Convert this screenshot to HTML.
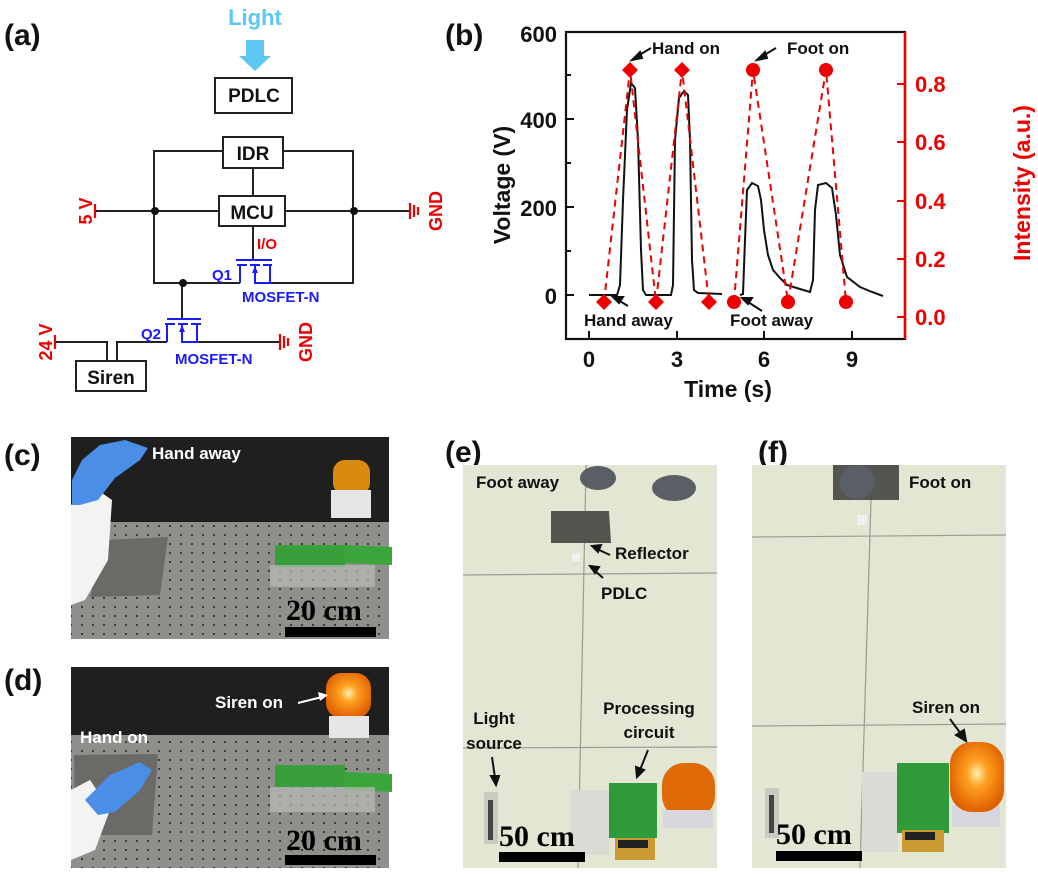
<!DOCTYPE html>
<html><head><meta charset="utf-8"><style>
html,body{margin:0;padding:0;background:#fff;}
svg{display:block;font-family:"Liberation Sans",Arial,sans-serif;}
</style></head><body>
<svg width="1038" height="875" viewBox="0 0 1038 875" xmlns="http://www.w3.org/2000/svg">
<g font-weight="bold" font-size="30" fill="#111">
<text x="4" y="45">(a)</text>
<text x="445" y="45">(b)</text>
<text x="4" y="465">(c)</text>
<text x="4" y="690">(d)</text>
<text x="445" y="462">(e)</text>
<text x="758" y="462">(f)</text>
</g>

<!-- ===== Panel (a) circuit ===== -->
<text x="255" y="25" font-size="22" font-weight="bold" fill="#5cc8f2" text-anchor="middle">Light</text>
<polygon points="246,40 264,40 264,56 271,56 255,71 239,56 246,56" fill="#5cc8f2"/>
<g fill="none" stroke="#222" stroke-width="2">
<rect x="215" y="78" width="77" height="35" fill="#fff"/>
<polyline points="223,151 154,151 154,283 240,283"/>
<polyline points="283,151 353,151 353,283 270,283"/>
<rect x="223" y="137" width="60" height="31" fill="#fff"/>
<line x1="253" y1="168" x2="253" y2="196"/>
<line x1="95" y1="211" x2="219" y2="211"/>
<line x1="285" y1="211" x2="410" y2="211"/>
<rect x="219" y="196" width="66" height="30" fill="#fff"/>
<line x1="253" y1="226" x2="253" y2="260"/>
<line x1="182" y1="283" x2="182" y2="319"/>
<polyline points="55,342 107,342 107,361"/>
<polyline points="117,361 117,342 167,342"/>
<line x1="197" y1="342" x2="280" y2="342"/>
<rect x="76" y="361" width="70" height="30" fill="#fff"/>
</g>
<g fill="#111"><circle cx="155" cy="211" r="4"/><circle cx="354" cy="211" r="4"/><circle cx="183" cy="283" r="4"/></g>
<g font-weight="bold" font-size="19" fill="#111" text-anchor="middle">
<text x="254" y="102">PDLC</text>
<text x="253" y="160">IDR</text>
<text x="252" y="219">MCU</text>
<text x="111" y="384">Siren</text>
</g>
<g stroke="#1a1aff" stroke-width="2" fill="none">
<line x1="236" y1="260" x2="272" y2="260"/>
<line x1="237" y1="265" x2="247" y2="265"/><line x1="250" y1="265" x2="260" y2="265"/><line x1="263" y1="265" x2="272" y2="265"/>
<polyline points="240,265 240,283"/>
<polyline points="255,265 255,283 270,283 270,265"/>
<line x1="167" y1="319" x2="201" y2="319"/>
<line x1="165" y1="324" x2="175" y2="324"/><line x1="178" y1="324" x2="188" y2="324"/><line x1="191" y1="324" x2="201" y2="324"/>
<polyline points="167,324 167,342"/>
<polyline points="182,324 182,342 197,342 197,324"/>
</g>
<g fill="#1a1aff"><polygon points="255,266 252,273 258,273"/><polygon points="182,325 179,332 185,332"/></g>
<g font-weight="bold" font-size="15" fill="#1a1aff">
<text x="212" y="280">Q1</text>
<text x="242" y="302">MOSFET-N</text>
<text x="141" y="339">Q2</text>
<text x="175" y="364">MOSFET-N</text>
</g>
<g stroke="#e00" stroke-width="2.2">
<line x1="95" y1="204" x2="95" y2="218"/>
<line x1="410" y1="203" x2="410" y2="219"/><line x1="414" y1="205" x2="414" y2="217"/><line x1="418" y1="207" x2="418" y2="215"/>
<line x1="55" y1="335" x2="55" y2="349"/>
<line x1="280" y1="334" x2="280" y2="350"/><line x1="284" y1="336" x2="284" y2="348"/><line x1="288" y1="338" x2="288" y2="346"/>
</g>
<g font-weight="bold" font-size="18" fill="#e00">
<text transform="translate(92,211) rotate(-90)" text-anchor="middle">5 V</text>
<text transform="translate(442,211) rotate(-90)" text-anchor="middle">GND</text>
<text transform="translate(52,342) rotate(-90)" text-anchor="middle">24 V</text>
<text transform="translate(312,342) rotate(-90)" text-anchor="middle">GND</text>
<text x="257" y="249" font-size="15">I/O</text>
</g>

<!-- ===== Panel (b) plot ===== -->
<rect x="566" y="32" width="339" height="307" fill="none" stroke="#111" stroke-width="2.2"/>
<line x1="905" y1="32" x2="905" y2="339" stroke="#e00" stroke-width="2.5"/>
<g stroke="#111" stroke-width="2">
<line x1="566" y1="295" x2="574" y2="295"/><line x1="566" y1="207" x2="574" y2="207"/><line x1="566" y1="119" x2="574" y2="119"/>
<line x1="566" y1="251" x2="571" y2="251"/><line x1="566" y1="163" x2="571" y2="163"/><line x1="566" y1="75" x2="571" y2="75"/>
<line x1="589" y1="339" x2="589" y2="331"/><line x1="677" y1="339" x2="677" y2="331"/><line x1="764" y1="339" x2="764" y2="331"/><line x1="852" y1="339" x2="852" y2="331"/>
</g>
<g stroke="#e00" stroke-width="2">
<line x1="905" y1="84" x2="897" y2="84"/><line x1="905" y1="142" x2="897" y2="142"/><line x1="905" y1="201" x2="897" y2="201"/><line x1="905" y1="259" x2="897" y2="259"/><line x1="905" y1="317" x2="897" y2="317"/>
</g>
<g font-weight="bold" font-size="22" fill="#111" text-anchor="end">
<text x="557" y="42">600</text><text x="557" y="128">400</text><text x="557" y="216">200</text><text x="557" y="304">0</text>
</g>
<g font-weight="bold" font-size="22" fill="#111" text-anchor="middle">
<text x="589" y="367">0</text><text x="677" y="367">3</text><text x="764" y="367">6</text><text x="852" y="367">9</text>
<text x="728" y="397" font-size="23">Time (s)</text>
<text transform="translate(510,185) rotate(-90)" font-size="23">Voltage (V)</text>
</g>
<g font-weight="bold" font-size="22" fill="#e00">
<text x="915" y="92">0.8</text><text x="915" y="150">0.6</text><text x="915" y="209">0.4</text><text x="915" y="267">0.2</text><text x="915" y="325">0.0</text>
<text transform="translate(1030,183) rotate(-90)" text-anchor="middle" font-size="23">Intensity (a.u.)</text>
</g>
<path d="M589,295 L617,295 L620,285 L623,200 L627,110 L631,83 L635,88 L638,140 L641,250 L643,290 L646,295 L671,295 L673,285 L675,140 L679,98 L684,91 L688,95 L690,140 L692,260 L694,290 L698,293 L722,294 M740,295 L743,294 L745,240 L747,190 L752,183 L758,186 L761,200 L764,230 L768,255 L773,270 L780,278 L787,285 L800,289 L810,292 L813,280 L815,210 L818,185 L826,183 L832,188 L836,215 L840,255 L847,277 L860,287 L872,292 L883,296" fill="none" stroke="#111" stroke-width="2"/>
<g fill="none" stroke="#e00" stroke-width="2" stroke-dasharray="7,5">
<polyline points="604,302 630,70 656,302 682,70 709,302"/>
<polyline points="734,302 753,70 788,302 826,70 846,302"/>
</g>
<g fill="#e00">
<polygon points="604,294 612,302 604,310 596,302"/><polygon points="630,62 638,70 630,78 622,70"/><polygon points="656,294 664,302 656,310 648,302"/><polygon points="682,62 690,70 682,78 674,70"/><polygon points="709,294 717,302 709,310 701,302"/>
<circle cx="734" cy="302" r="7"/><circle cx="753" cy="70" r="7"/><circle cx="788" cy="302" r="7"/><circle cx="826" cy="70" r="7"/><circle cx="846" cy="302" r="7"/>
</g>
<g font-weight="bold" font-size="17" fill="#111">
<text x="652" y="54">Hand on</text>
<text x="787" y="54">Foot on</text>
<text x="584" y="326">Hand away</text>
<text x="730" y="326">Foot away</text>
</g>
<g stroke="#111" stroke-width="2" fill="#111">
<line x1="651" y1="48" x2="636" y2="57"/><polygon points="632,60 640,52 642,58"/>
<line x1="776" y1="48" x2="761" y2="57"/><polygon points="757,60 765,52 767,58"/>
<line x1="628" y1="306" x2="618" y2="300"/><polygon points="613,297 623,297 619,303"/>
<line x1="762" y1="311" x2="748" y2="302"/><polygon points="742,298 752,298 748,304"/>
</g>

<defs>
<pattern id="holes" width="11" height="9" patternUnits="userSpaceOnUse"><rect width="11" height="9" fill="#8f8f8c"/><circle cx="5" cy="4" r="1.1" fill="#333"/></pattern>
<radialGradient id="glow" cx="50%" cy="45%" r="55%"><stop offset="0" stop-color="#fff2b0"/><stop offset="0.35" stop-color="#ffa020"/><stop offset="1" stop-color="#e06000"/></radialGradient>
</defs>

<!-- ===== Panel (c) ===== -->
<g>
<rect x="71" y="437" width="318" height="202" fill="url(#holes)"/>
<rect x="71" y="437" width="318" height="85" fill="#1f1f1f"/>
<polygon points="106,540 168,537 160,595 90,597" fill="#6b6a66"/>
<path d="M71,505 L95,488 L112,500 L108,560 L85,600 L71,605 Z" fill="#f3f3f3"/>
<path d="M72,480 L82,460 L100,445 L125,440 L148,448 L140,460 L115,478 L98,500 L80,505 L72,505 Z" fill="#4a8ee8"/>
<rect x="333" y="460" width="37" height="35" rx="12" fill="#d98a10"/>
<rect x="331" y="490" width="40" height="28" fill="#e6e6e6"/>
<polygon points="345,545 392,547 392,565 345,563" fill="#3aa53a"/>
<rect x="275" y="545" width="70" height="22" fill="#3a9e3a"/>
<rect x="270" y="565" width="105" height="22" fill="#b8bab6" opacity="0.7"/>
<text x="152" y="459" font-weight="bold" font-size="17" fill="#fff">Hand away</text>
<text x="286" y="620" font-family="Liberation Serif,serif" font-weight="bold" font-size="30" fill="#000">20 cm</text>
<rect x="285" y="627" width="91" height="10" fill="#000"/>
</g>

<!-- ===== Panel (d) ===== -->
<g>
<rect x="71" y="667" width="318" height="201" fill="url(#holes)"/>
<rect x="71" y="667" width="318" height="68" fill="#1f1f1f"/>
<polygon points="74,755 158,754 152,835 75,835" fill="#6b6a66"/>
<path d="M71,790 L90,780 L110,810 L95,850 L71,860 Z" fill="#f3f3f3"/>
<path d="M85,800 L110,775 L140,762 L152,770 L140,790 L115,812 L98,815 Z" fill="#4a8ee8"/>
<rect x="326" y="673" width="45" height="45" rx="15" fill="url(#glow)"/>
<rect x="329" y="716" width="40" height="22" fill="#e6e6e6"/>
<polygon points="345,772 392,774 392,792 345,790" fill="#3aa53a"/>
<rect x="275" y="765" width="70" height="22" fill="#3a9e3a"/>
<rect x="270" y="787" width="105" height="25" fill="#b8bab6" opacity="0.7"/>
<text x="215" y="708" font-weight="bold" font-size="17" fill="#fff">Siren on</text>
<line x1="298" y1="703" x2="322" y2="697" stroke="#fff" stroke-width="2"/><polygon points="328,695 318,692 320,701" fill="#fff"/>
<text x="80" y="743" font-weight="bold" font-size="17" fill="#fff">Hand on</text>
<text x="286" y="850" font-family="Liberation Serif,serif" font-weight="bold" font-size="30" fill="#000">20 cm</text>
<rect x="285" y="855" width="91" height="10" fill="#000"/>
</g>

<!-- ===== Panel (e) ===== -->
<g>
<rect x="463" y="465" width="254" height="403" fill="#e2e6d2"/>
<g stroke="#9a9c8e" stroke-width="1.2"><line x1="586" y1="465" x2="578" y2="868"/><line x1="463" y1="575" x2="717" y2="573"/><line x1="463" y1="748" x2="717" y2="747"/></g>
<ellipse cx="598" cy="478" rx="18" ry="12" fill="#5a5e66"/>
<ellipse cx="674" cy="488" rx="22" ry="13" fill="#5a5e66"/>
<polygon points="551,511 609,511 611,543 551,543" fill="#55554f"/>
<rect x="572" y="553" width="8" height="8" fill="#f2eef4"/>
<rect x="484" y="792" width="14" height="52" fill="#c8ccc0"/><rect x="488" y="800" width="5" height="40" fill="#444"/>
<rect x="570" y="790" width="40" height="65" fill="#d8dcd4"/>
<rect x="609" y="783" width="48" height="55" fill="#2e9a3a"/>
<rect x="615" y="838" width="40" height="22" fill="#c89a30"/>
<rect x="618" y="840" width="30" height="8" fill="#222"/>
<rect x="662" y="763" width="53" height="55" rx="22" fill="#e06a08"/>
<rect x="663" y="810" width="50" height="18" fill="#d6d6dc"/>
<g font-weight="bold" font-size="17" fill="#111">
<text x="476" y="488">Foot away</text>
<text x="615" y="559">Reflector</text>
<text x="601" y="599">PDLC</text>
<text x="494" y="724" text-anchor="middle">Light</text>
<text x="494" y="749" text-anchor="middle">source</text>
<text x="649" y="714" text-anchor="middle">Processing</text>
<text x="649" y="738" text-anchor="middle">circuit</text>
</g>
<g stroke="#111" stroke-width="2" fill="#111">
<line x1="610" y1="555" x2="597" y2="549"/><polygon points="592,546 601,545 598,552"/>
<line x1="603" y1="578" x2="594" y2="570"/><polygon points="590,566 599,567 595,573"/>
<line x1="492" y1="757" x2="495" y2="778"/><polygon points="496,785 491,776 499,776"/>
<line x1="648" y1="750" x2="640" y2="770"/><polygon points="637,777 636,767 644,770"/>
</g>
<text x="499" y="846" font-family="Liberation Serif,serif" font-weight="bold" font-size="30" fill="#000">50 cm</text>
<rect x="499" y="852" width="86" height="10" fill="#000"/>
</g>

<!-- ===== Panel (f) ===== -->
<g>
<rect x="752" y="465" width="254" height="403" fill="#e2e6d2"/>
<g stroke="#9a9c8e" stroke-width="1.2"><line x1="872" y1="465" x2="860" y2="868"/><line x1="752" y1="537" x2="1006" y2="535"/><line x1="752" y1="726" x2="1006" y2="724"/></g>
<polygon points="833,465 899,465 899,500 833,500" fill="#55554f"/>
<ellipse cx="857" cy="482" rx="18" ry="17" fill="#5a5e66"/>
<rect x="857" y="515" width="10" height="10" fill="#f2eef4"/>
<rect x="765" y="788" width="14" height="50" fill="#c8ccc0"/><rect x="769" y="795" width="5" height="38" fill="#444"/>
<rect x="862" y="772" width="36" height="80" fill="#d8dcd4"/>
<rect x="897" y="763" width="52" height="70" fill="#2e9a3a"/>
<rect x="902" y="830" width="42" height="22" fill="#c89a30"/>
<rect x="905" y="832" width="30" height="8" fill="#222"/>
<rect x="952" y="805" width="48" height="22" fill="#d6d6dc"/>
<rect x="950" y="742" width="54" height="70" rx="22" fill="url(#glow)"/>
<text x="946" y="713" text-anchor="middle" font-weight="bold" font-size="17" fill="#111">Siren on</text>
<g stroke="#111" stroke-width="2" fill="#111">
<line x1="950" y1="719" x2="961" y2="734"/><polygon points="966,741 956,735 964,730"/>
</g>
<text x="909" y="488" font-weight="bold" font-size="17" fill="#111">Foot on</text>
<text x="776" y="844" font-family="Liberation Serif,serif" font-weight="bold" font-size="30" fill="#000">50 cm</text>
<rect x="776" y="851" width="86" height="10" fill="#000"/>
</g>
</svg>
</body></html>
